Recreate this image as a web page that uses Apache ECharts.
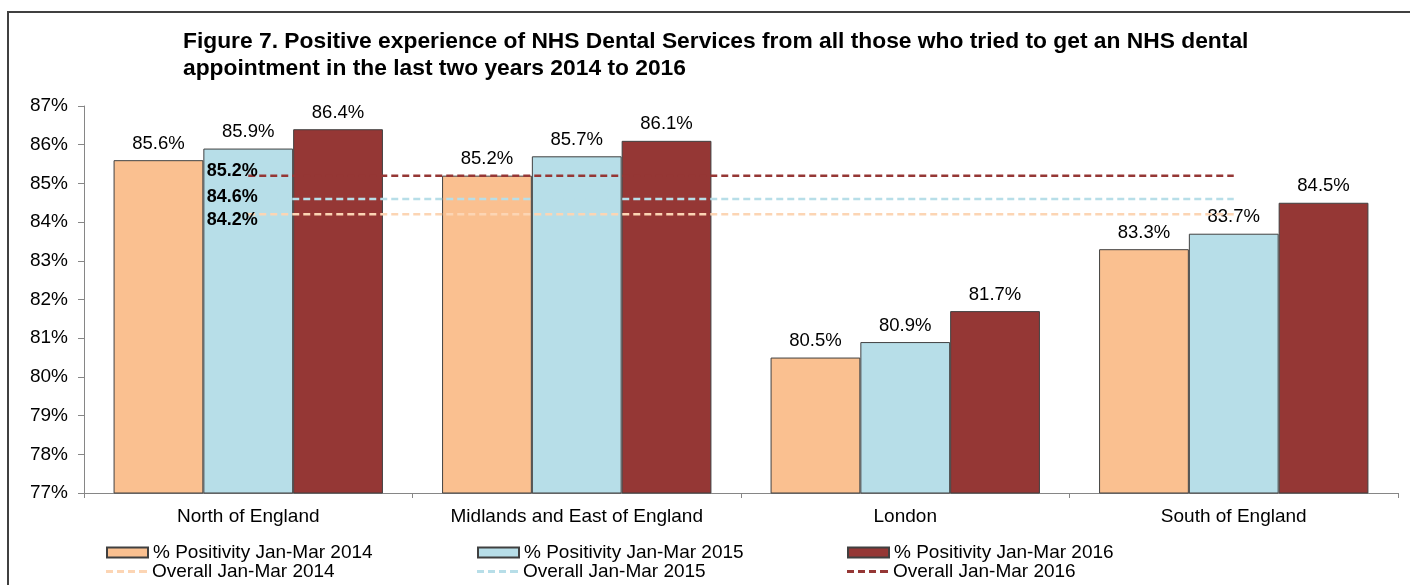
<!DOCTYPE html>
<html>
<head>
<meta charset="utf-8">
<script src="https://cdn.jsdelivr.net/npm/echarts@6/dist/echarts.min.js"></script>
<style>
html,body{margin:0;padding:0;background:#fff;}
#chart{width:1410px;height:585px;}
</style>
</head>
<body>
<div id="chart"></div>
<script>
const categories = ['North of England', 'Midlands and East of England', 'London', 'South of England'];
const pos2014 = [85.6, 85.2, 80.5, 83.3];
const pos2015 = [85.9, 85.7, 80.9, 83.7];
const pos2016 = [86.4, 86.1, 81.7, 84.5];
const overall2014 = [84.2, 84.2, 84.2, 84.2];
const overall2015 = [84.6, 84.6, 84.6, 84.6];
const overall2016 = [85.2, 85.2, 85.2, 85.2];
const seriesNames = ['% Positivity Jan-Mar 2014', '% Positivity Jan-Mar 2015', '% Positivity Jan-Mar 2016',
  'Overall Jan-Mar 2014', 'Overall Jan-Mar 2015', 'Overall Jan-Mar 2016'];

const FONT = '"Liberation Sans", Arial, sans-serif';
const barColors = ['#FAC090', '#B7DEE8', '#953735'];
const lineColors = ['#FCD5B4', '#B7DEE8', '#953735'];
const dashIcon = 'path://M0,0h7v3h-7z M11,0h7v3h-7z M22,0h7v3h-7z M33,0h8v3h-8z';

function barSeries(name, data, color) {
  return {
    name: name, type: 'bar', data: data,
    barGap: '0%', barCategoryGap: '18%',
    itemStyle: {color: color, borderColor: '#404040', borderWidth: 1},
    label: {show: true, position: 'top', distance: 7, formatter: p => p.value.toFixed(1) + '%',
      color: '#000', fontFamily: FONT, fontSize: 18.5}
  };
}
function lineSeries(name, data, color, offY) {
  return {
    name: name, type: 'line', data: data, symbol: 'circle', symbolSize: 1, showSymbol: true, z: 5,
    lineStyle: {color: color, width: 2.5, type: [7, 4]},
    itemStyle: {color: 'rgba(0,0,0,0)', borderWidth: 0},
    label: {show: true, position: 'left', distance: 0, offset: [10, offY],
      formatter: p => p.dataIndex === 0 ? p.value.toFixed(1) + '%' : '',
      color: '#000', fontFamily: FONT, fontSize: 18, fontWeight: 'bold'}
  };
}
function legendAt(name, left, top, isLine, color) {
  return {
    data: [isLine ? {name: name, icon: dashIcon, itemStyle: {color: color, opacity: 1, borderWidth: 0}} : {name: name, icon: 'rect'}],
    left: left, top: top, orient: 'horizontal', padding: 0,
    itemWidth: 41, itemHeight: isLine ? 3 : 10, itemGap: 0,
    textStyle: {fontFamily: FONT, fontSize: 19, color: '#000', padding: [0, 0, 0, 0]},
    selectedMode: false
  };
}

const chart = echarts.init(document.getElementById('chart'), null, {renderer: 'canvas'});
chart.setOption({
  animation: false,
  backgroundColor: '#fff',
  title: {
    text: 'Figure 7. Positive experience of NHS Dental Services from all those who tried to get an NHS dental\nappointment in the last two years 2014 to 2016',
    left: 178, top: 23,
    textStyle: {fontFamily: FONT, fontSize: 22.8, fontWeight: 'bold', color: '#000', lineHeight: 27}
  },
  graphic: [{
    type: 'rect', shape: {x: 8, y: 12, width: 1420, height: 600},
    style: {fill: 'none', stroke: '#404040', lineWidth: 2}, silent: true
  }],
  legend: [
    legendAt(seriesNames[0], 106, 543, false),
    legendAt(seriesNames[1], 477, 543, false),
    legendAt(seriesNames[2], 847, 543, false),
    legendAt(seriesNames[3], 106, 562, true, lineColors[0]),
    legendAt(seriesNames[4], 477, 562, true, lineColors[1]),
    legendAt(seriesNames[5], 847, 562, true, lineColors[2])
  ],
  grid: {left: 84, right: 12, top: 106, bottom: 92, containLabel: false},
  xAxis: {
    type: 'category', data: categories,
    axisLine: {lineStyle: {color: '#868686', width: 1}},
    axisTick: {show: true, length: 5, lineStyle: {color: '#868686'}},
    axisLabel: {color: '#000', fontFamily: FONT, fontSize: 19, margin: 14}
  },
  yAxis: {
    type: 'value', min: 77, max: 87, interval: 1,
    axisLine: {show: true, lineStyle: {color: '#868686', width: 1}},
    axisTick: {show: true, length: 6, lineStyle: {color: '#868686'}},
    splitLine: {show: false},
    axisLabel: {formatter: '{value}%', color: '#000', fontFamily: FONT, fontSize: 19, margin: 16}
  },
  series: [
    barSeries(seriesNames[0], pos2014, barColors[0]),
    barSeries(seriesNames[1], pos2015, barColors[1]),
    barSeries(seriesNames[2], pos2016, barColors[2]),
    lineSeries(seriesNames[3], overall2014, lineColors[0], 6),
    lineSeries(seriesNames[4], overall2015, lineColors[1], -2),
    lineSeries(seriesNames[5], overall2016, lineColors[2], -5)
  ]
});
</script>
</body>
</html>
